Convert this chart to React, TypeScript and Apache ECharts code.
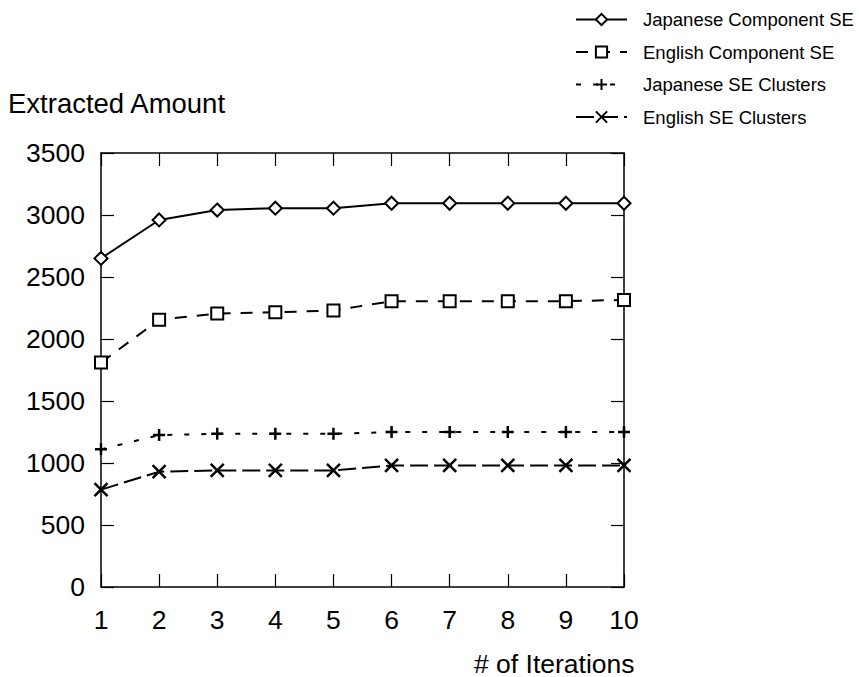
import React, { useEffect, useRef } from "react";
import * as echarts from "echarts";

const iterations = [1, 2, 3, 4, 5, 6, 7, 8, 9, 10];
const japaneseComponentSE = [2650, 2960, 3040, 3055, 3055, 3095, 3095, 3095, 3095, 3095];
const englishComponentSE = [1810, 2155, 2205, 2215, 2230, 2305, 2305, 2305, 2305, 2315];
const japaneseSEClusters = [1110, 1225, 1235, 1235, 1235, 1250, 1250, 1250, 1250, 1250];
const englishSEClusters = [785, 930, 940, 940, 940, 980, 980, 980, 980, 980];

const seriesNames = [
  "Japanese Component SE",
  "English Component SE",
  "Japanese SE Clusters",
  "English SE Clusters",
];

const FONT = "Liberation Sans, Arial, Helvetica, sans-serif";

export default function App() {
  const ref = useRef<HTMLDivElement>(null);
  useEffect(() => {
    document.body.style.margin = "0";
    if (!ref.current) return;
    const chart = echarts.init(ref.current, undefined, { renderer: "svg" });
    const toPairs = (vals: number[]) => iterations.map((x, i) => [x, vals[i]]);
    const axisCommon = {
      type: "value" as const,
      axisLine: { show: true, onZero: false, lineStyle: { color: "#000", width: 1.5 } },
      axisTick: { show: true, inside: true, length: 13, lineStyle: { color: "#000", width: 1.2 } },
      splitLine: { show: false },
    };
    chart.setOption({
      animation: false,
      backgroundColor: "#fff",
      textStyle: { fontFamily: FONT },
      grid: { left: 101, right: 235, top: 153, bottom: 90 },
      legend: {
        orient: "vertical",
        left: 570,
        top: 5,
        itemWidth: 51,
        itemHeight: 14,
        itemGap: 13.5,
        textStyle: { fontSize: 18.5, color: "#000", fontFamily: FONT, padding: [0, 0, 0, 11] },
        data: seriesNames,
      },
      xAxis: [
        {
          ...axisCommon,
          min: 1,
          max: 10,
          interval: 1,
          position: "bottom",
          axisLabel: { fontSize: 26.5, color: "#000", margin: 19, fontFamily: FONT },
        },
        {
          ...axisCommon,
          min: 1,
          max: 10,
          interval: 1,
          position: "top",
          axisLabel: { show: false },
        },
      ],
      yAxis: [
        {
          ...axisCommon,
          min: 0,
          max: 3500,
          interval: 500,
          position: "left",
          axisLabel: {
            fontSize: 26.5,
            color: "#000",
            margin: 16,
            fontFamily: FONT,
            formatter: (v: number) => String(v),
          },
        },
        {
          ...axisCommon,
          min: 0,
          max: 3500,
          interval: 500,
          position: "right",
          axisLabel: { show: false },
        },
      ],
      graphic: [
        {
          type: "text",
          left: 8,
          top: 89,
          style: { text: "Extracted Amount", fill: "#000", font: `27.5px ${FONT}` },
        },
        {
          type: "text",
          left: 474,
          top: 650,
          style: { text: "# of Iterations", fill: "#000", font: `26.5px ${FONT}`, lineHeight: 26 },
        },
      ],
      series: [
        {
          name: seriesNames[0],
          type: "line",
          data: toPairs(japaneseComponentSE),
          symbol: "emptyDiamond",
          symbolSize: 13,
          showAllSymbol: true,
          lineStyle: { color: "#000", width: 2, type: "solid" },
          itemStyle: { color: "#000", borderColor: "#000", borderWidth: 2.2 },
        },
        {
          name: seriesNames[1],
          type: "line",
          data: toPairs(englishComponentSE),
          symbol: "emptyRect",
          symbolSize: 12,
          lineStyle: { color: "#000", width: 2, type: [12, 10] },
          itemStyle: { color: "#000", borderColor: "#000", borderWidth: 2.2 },
        },
        {
          name: seriesNames[2],
          type: "line",
          data: toPairs(japaneseSEClusters),
          symbol: "path://M0,6H12M6,0V12",
          symbolSize: 12,
          lineStyle: { color: "#000", width: 2, type: [5, 12] },
          itemStyle: { color: "#000", borderColor: "#000", borderWidth: 2.5 },
        },
        {
          name: seriesNames[3],
          type: "line",
          data: toPairs(englishSEClusters),
          symbol: "path://M0,0L12,12M12,0L0,12",
          symbolSize: 13,
          lineStyle: { color: "#000", width: 2, type: [18, 6] },
          itemStyle: { color: "#000", borderColor: "#000", borderWidth: 2.5 },
        },
      ],
    });
    return () => chart.dispose();
  }, []);
  return (
    <div
      ref={ref}
      style={{ position: "absolute", left: 0, top: 0, width: 859, height: 677 }}
    />
  );
}
